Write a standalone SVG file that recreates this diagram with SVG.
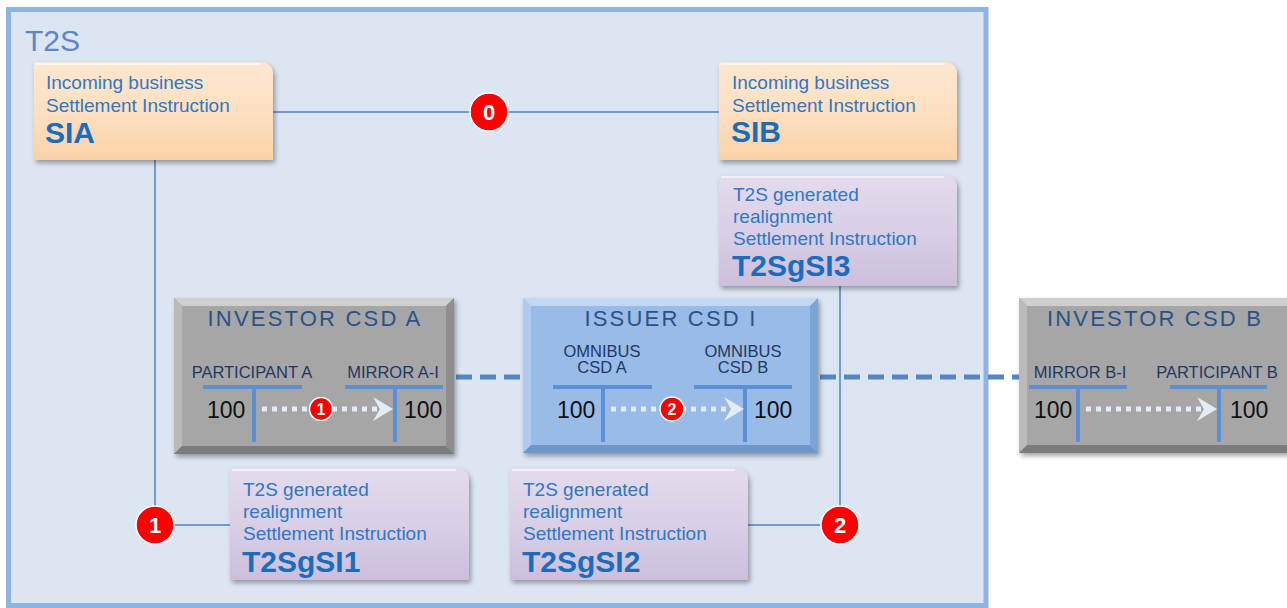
<svg xmlns="http://www.w3.org/2000/svg" width="1287" height="608" viewBox="0 0 1287 608">
<style>
  .frame{fill:#dce6f2;stroke:#8eb4e3;stroke-width:5}
  .t2s{font-family:"Liberation Sans",Arial,sans-serif;font-size:30px;fill:#5b87c5}
  .ln{font-family:"Liberation Sans",Arial,sans-serif;font-size:19px;fill:#2e78c4}
  .big{font-family:"Liberation Sans",Arial,sans-serif;font-size:30px;font-weight:bold;fill:#1a6dbd}
  .ttl{font-family:"Liberation Sans",Arial,sans-serif;font-size:22px;fill:#2a5288;letter-spacing:2.2px;text-anchor:middle}
  .lab{font-family:"Liberation Sans",Arial,sans-serif;font-size:16.5px;fill:#1f3864;text-anchor:middle}
  .omn{font-family:"Liberation Sans",Arial,sans-serif;font-size:16.5px;fill:#1f3864;text-anchor:middle}
  .num{font-family:"Liberation Sans",Arial,sans-serif;font-size:23px;fill:#111}
  .conn{fill:none;stroke:#4f81bd;stroke-width:1.5}
  .dash{fill:none;stroke:#5585c4;stroke-width:5;stroke-dasharray:16 8}
  .tbar{stroke:#5b8fd6;stroke-width:4;fill:none}
  .dot{stroke:#e4ecf6;stroke-width:5;stroke-dasharray:5 5;fill:none}
  .ahead{fill:#e4ecf6}
  .badge{fill:#ff0000;stroke:#ffffff;stroke-width:1.5}
  .bnum{font-family:"Liberation Sans",Arial,sans-serif;font-weight:bold;fill:#fff;text-anchor:middle}
  .orange{fill:url(#gOr);filter:url(#sh)}
  .purple{fill:url(#gPu);filter:url(#sh)}
  .hl{fill:none;stroke:#ffffff;stroke-opacity:0.55;stroke-width:2}
</style>
<defs>
  <filter id="sh" x="-10%" y="-10%" width="125%" height="130%">
    <feDropShadow dx="2" dy="3" stdDeviation="2.5" flood-color="#000" flood-opacity="0.35"/>
  </filter>
  <linearGradient id="gOr" x1="0" y1="0" x2="0" y2="1">
    <stop offset="0" stop-color="#fde7d0"/>
    <stop offset="0.5" stop-color="#fde0c2"/>
    <stop offset="1" stop-color="#f9d2a8"/>
  </linearGradient>
  <linearGradient id="gPu" x1="0" y1="0" x2="0" y2="1">
    <stop offset="0" stop-color="#e3dbed"/>
    <stop offset="0.5" stop-color="#d9cfe6"/>
    <stop offset="1" stop-color="#cbbfdc"/>
  </linearGradient>
</defs>

<rect class="frame" x="8.5" y="9.5" width="977.5" height="596"/>
<text class="t2s" x="25" y="51">T2S</text>

<g id="connectors">
  <line class="conn" x1="273" y1="112" x2="719" y2="112"/>
  <polyline class="conn" points="155,160 155,525 230,525"/>
  <polyline class="conn" points="840,286 840,525 748,525"/>
  <line class="dash" x1="456" y1="377" x2="523" y2="377"/>
  <line class="dash" x1="820" y1="377" x2="1019" y2="377"/>
</g>

<g id="SIA">
  <path class="orange" d="M34 62 H261 A12 12 0 0 1 273 74 V160 H34 Z"/>
  <path class="hl" d="M36 64 H260"/>
  <text class="ln" x="46" y="89">Incoming business</text>
  <text class="ln" x="46" y="112">Settlement Instruction</text>
  <text class="big" x="45" y="143">SIA</text>
</g>

<g id="SIB">
  <path class="orange" d="M719 62 H945 A12 12 0 0 1 957 74 V160 H719 Z"/>
  <path class="hl" d="M721 64 H944"/>
  <text class="ln" x="732" y="89">Incoming business</text>
  <text class="ln" x="732" y="112">Settlement Instruction</text>
  <text class="big" x="731" y="142">SIB</text>
</g>

<g id="T2SgSI3">
  <path class="purple" d="M719 175 H945 A12 12 0 0 1 957 187 V286 H719 Z"/>
  <path class="hl" d="M721 177 H944"/>
  <text class="ln" x="733" y="201">T2S generated</text>
  <text class="ln" x="733" y="223">realignment</text>
  <text class="ln" x="733" y="245">Settlement Instruction</text>
  <text class="big" x="732" y="276">T2SgSI3</text>
</g>

<g id="T2SgSI1">
  <path class="purple" d="M230 468 H457 A12 12 0 0 1 469 480 V580 H230 Z"/>
  <path class="hl" d="M232 470 H456"/>
  <text class="ln" x="243" y="496">T2S generated</text>
  <text class="ln" x="243" y="518">realignment</text>
  <text class="ln" x="243" y="540">Settlement Instruction</text>
  <text class="big" x="242" y="572">T2SgSI1</text>
</g>

<g id="T2SgSI2">
  <path class="purple" d="M510 468 H736 A12 12 0 0 1 748 480 V580 H510 Z"/>
  <path class="hl" d="M512 470 H735"/>
  <text class="ln" x="523" y="496">T2S generated</text>
  <text class="ln" x="523" y="518">realignment</text>
  <text class="ln" x="523" y="540">Settlement Instruction</text>
  <text class="big" x="522" y="572">T2SgSI2</text>
</g>

<g id="investor-csd-a">
  <g filter="url(#sh)">
    <rect x="174" y="298" width="280" height="156" fill="#a6a6a6"/>
  </g>
  <polygon points="174,298 454,298 446,306 182,306" fill="#cfcfcf"/>
  <polygon points="174,298 182,306 182,446 174,454" fill="#bababa"/>
  <polygon points="454,298 454,454 446,446 446,306" fill="#8e8e8e"/>
  <polygon points="174,454 454,454 446,446 182,446" fill="#7c7c7c"/>
  <text class="ttl" x="315" y="326">INVESTOR CSD A</text>
  <text class="lab" x="252" y="378">PARTICIPANT A</text>
  <text class="lab" x="393" y="378">MIRROR A-I</text>
  <path class="tbar" d="M203 387 H302 M254 387 V442 M345 387 H443 M395 387 V442"/>
  <text class="num" x="207" y="418">100</text>
  <text class="num" x="404" y="418">100</text>
  <line class="dot" x1="262" y1="409" x2="380" y2="409"/>
  <path class="ahead" d="M393 409 L373 397 L380 409 L373 421 Z"/>
  <circle class="badge" cx="321" cy="409" r="11.5"/>
  <text class="bnum" x="321" y="415" font-size="16">1</text>
</g>

<g id="issuer-csd-i">
  <g filter="url(#sh)">
    <rect x="523" y="298" width="295" height="155" fill="#98bbe7"/>
  </g>
  <polygon points="523,298 818,298 810,306 531,306" fill="#c2d7f2"/>
  <polygon points="523,298 531,306 531,445 523,453" fill="#afcaee"/>
  <polygon points="818,298 818,453 810,445 810,306" fill="#7ea3d6"/>
  <polygon points="523,453 818,453 810,445 531,445" fill="#6f95c9"/>
  <text class="ttl" x="671" y="326">ISSUER CSD I</text>
  <text class="omn" x="602" y="357">OMNIBUS</text>
  <text class="omn" x="602" y="373">CSD A</text>
  <text class="omn" x="743" y="357">OMNIBUS</text>
  <text class="omn" x="743" y="373">CSD B</text>
  <path class="tbar" d="M553 387 H652 M603 387 V442 M694 387 H792 M745 387 V442"/>
  <text class="num" x="557" y="418">100</text>
  <text class="num" x="754" y="418">100</text>
  <line class="dot" x1="611" y1="409" x2="731" y2="409"/>
  <path class="ahead" d="M744 409 L724 397 L731 409 L724 421 Z"/>
  <circle class="badge" cx="672" cy="409" r="12"/>
  <text class="bnum" x="672" y="415" font-size="16">2</text>
</g>

<g id="investor-csd-b">
  <g filter="url(#sh)">
    <rect x="1019" y="298" width="270" height="155" fill="#a6a6a6"/>
  </g>
  <polygon points="1019,298 1287,298 1287,306 1027,306" fill="#cfcfcf"/>
  <polygon points="1019,298 1027,306 1027,445 1019,453" fill="#bababa"/>
  <polygon points="1019,453 1287,453 1287,445 1027,445" fill="#7c7c7c"/>
  <text class="ttl" x="1155" y="326">INVESTOR CSD B</text>
  <text class="lab" x="1080" y="378">MIRROR B-I</text>
  <text class="lab" x="1217" y="378">PARTICIPANT B</text>
  <path class="tbar" d="M1029 387 H1127 M1078 387 V442 M1170 387 H1267 M1219 387 V442"/>
  <text class="num" x="1034" y="418">100</text>
  <text class="num" x="1230" y="418">100</text>
  <line class="dot" x1="1086" y1="409" x2="1204" y2="409"/>
  <path class="ahead" d="M1217 409 L1197 397 L1204 409 L1197 421 Z"/>
</g>

<g id="badges">
  <circle class="badge" cx="489" cy="112" r="19"/>
  <text class="bnum" x="489" y="120" font-size="22">0</text>
  <circle class="badge" cx="155" cy="525" r="19"/>
  <text class="bnum" x="155" y="533" font-size="22">1</text>
  <circle class="badge" cx="840" cy="525" r="19"/>
  <text class="bnum" x="840" y="533" font-size="22">2</text>
</g>
</svg>
